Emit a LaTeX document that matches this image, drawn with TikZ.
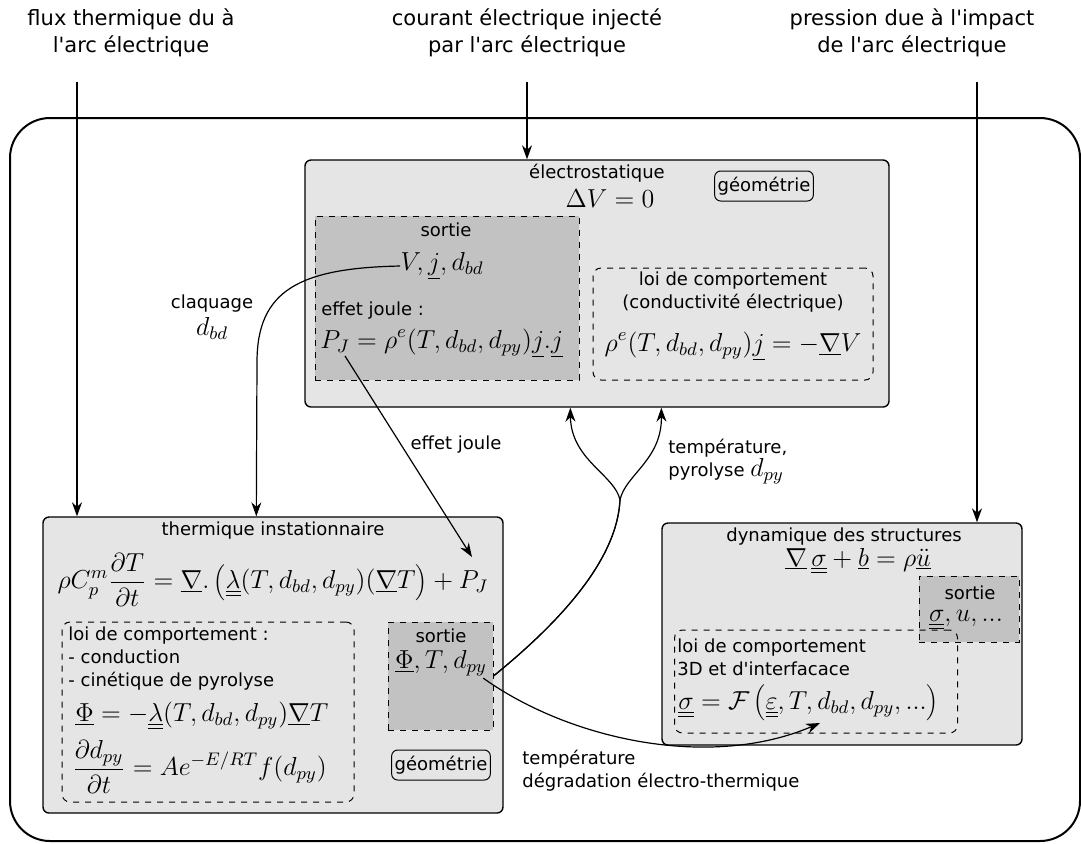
\RequirePackage{fix-cm}
\documentclass[tikz,border=0pt]{standalone}
\usepackage[no-math]{fontspec}
\setmainfont{DejaVu Sans}[Ligatures=TeXOff]
\usetikzlibrary{arrows.meta,calc}
\definecolor{boxgray}{HTML}{E5E5E5}
\definecolor{outgray}{HTML}{C2C2C2}
\newcommand{\txt}{\fontsize{9}{11.5}\selectfont}
\newcommand{\toptxt}{\fontsize{10.5}{13.5}\selectfont}
\newcommand{\mm}[1]{{\fontsize{13}{15}\selectfont$\displaystyle #1$}}
\newcommand{\ul}[1]{\underline{#1}}
\newcommand{\uul}[1]{\underline{\underline{#1}}}
\begin{document}
\begin{tikzpicture}[x=0.5pt,y=-0.5pt,
  outer/.style={draw, line width=1pt, rounded corners=20pt, inner sep=0pt},
  block/.style={draw, line width=0.7pt, rounded corners=3pt, fill=boxgray, inner sep=0pt},
  outbox/.style={draw, dashed, line width=0.5pt, fill=outgray, inner sep=0pt},
  lawbox/.style={draw, dashed, line width=0.5pt, rounded corners=4pt, inner sep=0pt},
  geo/.style={draw, line width=0.5pt, rounded corners=3pt, inner xsep=1.5pt, inner ysep=0pt, minimum height=15pt, font=\txt},
  lbl/.style={font=\txt, inner sep=0pt, align=center},
  lbll/.style={font=\txt, inner sep=0pt, align=left},
  toplbl/.style={font=\toptxt, inner sep=0pt, align=center},
  eq/.style={inner sep=0pt},
  arr/.style={-{Stealth[length=7pt,width=5pt]}, line width=0.6pt}
]
\useasboundingbox (0,0) rectangle (1081,843);

% outer system
\node[outer, minimum width=535pt, minimum height=361.5pt] (sys) at (545,479.5) {};

% top labels
\node[toplbl] (l1) at (131,33) {flux thermique du à\\l'arc électrique};
\node[toplbl] (l2) at (527,33) {courant électrique injecté\\par l'arc électrique};
\node[toplbl] (l3) at (912,33) {pression due à l'impact\\de l'arc électrique};
\coordinate (in1) at (77,82);
\coordinate (in2) at (527,82);
\coordinate (in3) at (977,82);

% electrostatique block
\node[block, minimum width=292pt, minimum height=123.5pt] (elec) at (597,283.5) {};
\node[lbl] (elect) at (597,173) {électrostatique};
\node[eq] (eleceq) at (610,199) {\mm{\Delta V = 0}};
\node[geo] (egeo) at (764,186) {géométrie};
\node[outbox, minimum width=132pt, minimum height=82pt] (eout) at (447,298) {};
\node[lbl] (eoutt) at (446,230) {sortie};
\node[eq] (vjd) at (442,266) {\mm{V,\ul{j},d_{bd}}};
\node[lbll, anchor=west] (ejt) at (321,311) {effet joule :};
\node[eq, anchor=west] (pj) at (320,343) {\mm{P_J=\rho^e(T,d_{bd},d_{py})\ul{j}.\ul{j}}};
\node[lawbox, minimum width=140pt, minimum height=56pt] (elaw) at (733,324) {};
\node[lbl] (elawt) at (733,292) {loi de comportement\\(conductivité électrique)};
\node[eq] (elaweq) at (733,346) {\mm{\rho^e(T,d_{bd},d_{py})\ul{j}=-\ul{\nabla}V}};

% thermique block
\node[block, minimum width=230pt, minimum height=148pt] (therm) at (273,665) {};
\node[lbl] (thermt) at (273,531) {thermique instationnaire};
\node[eq] (thermeq) at (273,580) {\mm{\rho C_p^m\frac{\partial T}{\partial t}=\ul{\nabla}.\left(\uul{\lambda}(T,d_{bd},d_{py})(\ul{\nabla}T\right)+P_J}};
\node[lawbox, minimum width=146pt, minimum height=90pt] (tlaw) at (208,712) {};
\node[lbll, anchor=north west] (tlawt) at (68,626) {loi de comportement :\\- conduction\\- cinétique de pyrolyse};
\node[eq, anchor=west] (phieq) at (75,716) {\mm{\ul{\Phi}=-\uul{\lambda}(T,d_{bd},d_{py})\ul{\nabla}T}};
\node[eq, anchor=west] (pyeq) at (72,767) {\mm{\frac{\partial d_{py}}{\partial t}=Ae^{-E/RT}f(d_{py})}};
\node[outbox, minimum width=52.5pt, minimum height=54pt] (tout) at (440.5,676) {};
\node[lbl] (toutt) at (441,636) {sortie};
\node[eq] (phit) at (441,663) {\mm{\ul{\Phi},T,d_{py}}};
\node[geo] (tgeo) at (441,765) {géométrie};

% dynamique block
\node[block, minimum width=180pt, minimum height=111pt] (dyn) at (842,634) {};
\node[lbl] (dynt) at (844,537) {dynamique des structures};
\node[eq] (dyneq) at (858,561) {\mm{\ul{\nabla}\,\uul{\sigma}+\ul{b}=\rho\ul{\ddot{u}}}};
\node[outbox, minimum width=50pt, minimum height=33pt] (dout) at (969,609) {};
\node[lbl] (doutt) at (970,593) {sortie};
\node[eq] (sigt) at (966,620) {\mm{\uul{\sigma},u,...}};
\node[lawbox, minimum width=141.5pt, minimum height=51.5pt] (dlaw) at (816,681.5) {};
\node[lbll, anchor=north west] (dlawt) at (677,638) {loi de comportement\\3D et d'interfacace};
\node[eq, anchor=west] (dlaweq) at (678,703) {\mm{\uul{\sigma}=\mathcal{F}\left(\uul{\varepsilon},T,d_{bd},d_{py},...\right)}};

% connector labels
\node[lbl] (claq) at (212,317) {claquage\\[2pt]\mm{d_{bd}}};
\node[lbl] (ejl) at (456,445) {effet joule};
\node[lbll, anchor=west] (tpl) at (668,462) {température,\\pyrolyse \mm{d_{py}}};
\node[lbll, anchor=north west] (tdl) at (522,750) {température\\dégradation électro-thermique};

% input arrows
\draw[arr] (in1) -- (in1 |- therm.north);
\draw[arr] (in2) -- (in2 |- elec.north);
\draw[arr] (in3) -- (in3 |- dyn.north);

% claquage
\coordinate (clend) at ($(therm.north west)+(214,0)$);
\draw[arr] (vjd.west) .. controls (300,268) and (257,290) .. (257,362) -- (clend);

% effet joule
\coordinate (pjs) at ($(pj.west)+(25,13)$);
\coordinate (pjend) at (472,557);
\draw[arr] (pjs) -- (pjend);

% temperature / pyrolyse to electro
\coordinate (tb1) at ($(elec.south west)+(266,0)$);
\coordinate (tb2) at ($(elec.south west)+(357,0)$);
\coordinate (tsplit) at (620,500);
\draw[arr] (tout.east) .. controls (560,622) and (617,560) .. (tsplit) .. controls (615,475) and (571,460) .. (tb1);
\draw[arr] (tout.east) .. controls (560,622) and (617,560) .. (tsplit) .. controls (625,475) and (662,460) .. (tb2);

% temperature to dynamique
\coordinate (dtip) at (820,723);
\coordinate (phis) at ($(phit.south east)+(-4,2)$);
\draw[arr] (phis) .. controls (570,740) and (710,770) .. (dtip);
\end{tikzpicture}
\end{document}
